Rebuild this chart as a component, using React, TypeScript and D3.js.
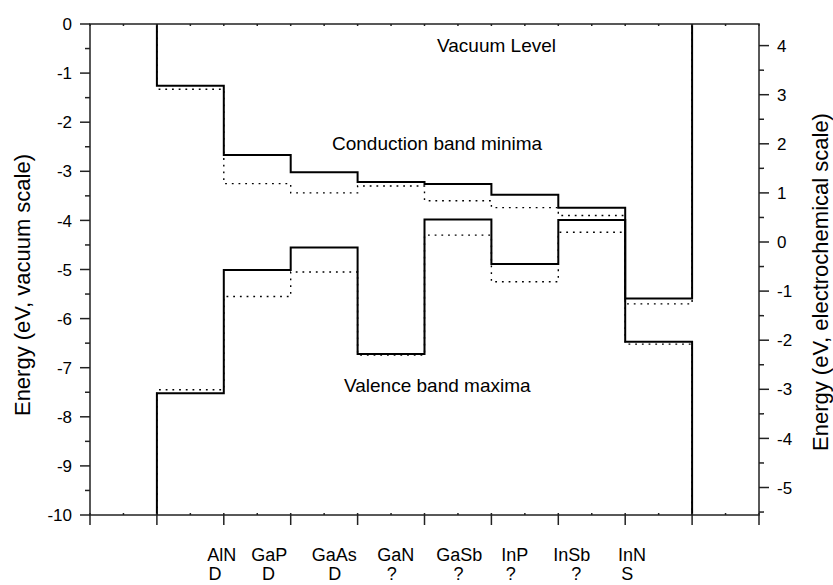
import React from "react";
import * as d3 from "d3";

// ---- data ----
const materials = ["AlN", "GaP", "GaAs", "GaN", "GaSb", "InP", "InSb", "InN"];
const gapTypes = ["D", "D", "D", "?", "?", "?", "?", "S"];
const cbmSolid = [-1.26, -2.67, -3.02, -3.22, -3.26, -3.48, -3.74, -5.59];
const cbmDotted = [-1.33, -3.25, -3.44, -3.3, -3.6, -3.74, -3.9, -5.7];
const vbmSolid = [-7.52, -5.01, -4.55, -6.72, -3.98, -4.89, -3.99, -6.47];
const vbmDotted = [-7.45, -5.55, -5.05, -6.74, -4.3, -5.25, -4.24, -6.52];
const leftTicks = [0, -1, -2, -3, -4, -5, -6, -7, -8, -9, -10];
const rightTicks = [4, 3, 2, 1, 0, -1, -2, -3, -4, -5];
const electrochemOffset = 4.44;
const vacuumLevel = 0;
const floorLevel = -10;

// label anchor positions (x-domain units) for the two label rows
const nameX = [1.97, 2.68, 3.65, 4.57, 5.52, 6.35, 7.2, 8.1];
const typeX = [1.87, 2.67, 3.66, 4.51, 5.51, 6.29, 7.27, 8.03];

const W = 833;
const H = 585;
const M = { left: 90, right: 759, top: 24, bottom: 515 };
const FONT = "'Liberation Sans', Arial, Helvetica, sans-serif";

export default function App() {
  const x = d3.scaleLinear().domain([0, 10]).range([M.left, M.right]);
  const y = d3.scaleLinear().domain([-10, 0]).range([M.bottom, M.top]);
  const yR = d3
    .scaleLinear()
    .domain([-10 + electrochemOffset, 0 + electrochemOffset])
    .range([M.bottom, M.top]);

  const stepLine = d3
    .line<[number, number]>()
    .x((d) => x(d[0]))
    .y((d) => y(d[1]))
    .curve(d3.curveStepAfter);

  const buildPts = (vals: number[], edge: number): [number, number][] => {
    const pts: [number, number][] = [[1, edge]];
    vals.forEach((v, i) => pts.push([i + 1, v]));
    pts.push([vals.length + 1, vals[vals.length - 1]]);
    pts.push([vals.length + 1, edge]);
    return pts;
  };

  const halfX = d3.range(0, 10.001, 0.5);
  const majorX = d3.range(0, 10.001, 1);
  const halfYL = d3.range(-10, 0.001, 0.5);
  const halfYR = d3.range(-5.5, 4.001, 0.5).filter((v) => yR(v) >= M.top && yR(v) <= M.bottom);

  const axisStroke = "#222";

  return (
    <svg
      width={W}
      height={H}
      style={{ position: "absolute", left: 0, top: 0, background: "#fff" }}
      fontFamily={FONT}
    >
      <rect x={0} y={0} width={W} height={H} fill="#fff" />

      {/* dotted step lines */}
      <path d={stepLine(buildPts(cbmDotted, vacuumLevel)) || ""} fill="none" stroke="#000" strokeWidth={1.4} strokeDasharray="1.8 4.9" />
      <path d={stepLine(buildPts(vbmDotted, floorLevel)) || ""} fill="none" stroke="#000" strokeWidth={1.4} strokeDasharray="1.8 4.9" />
      {/* solid step lines */}
      <path d={stepLine(buildPts(cbmSolid, vacuumLevel)) || ""} fill="none" stroke="#000" strokeWidth={2} />
      <path d={stepLine(buildPts(vbmSolid, floorLevel)) || ""} fill="none" stroke="#000" strokeWidth={2} />

      {/* frame */}
      <rect x={M.left} y={M.top} width={M.right - M.left} height={M.bottom - M.top} fill="none" stroke={axisStroke} strokeWidth={1.5} />

      {/* x ticks */}
      {halfX.map((v) => (
        <g key={"hx" + v}>
          <line x1={x(v)} x2={x(v)} y1={M.top} y2={M.top + 2} stroke={axisStroke} strokeWidth={1.5} />
          <line x1={x(v)} x2={x(v)} y1={M.bottom} y2={M.bottom - 2} stroke={axisStroke} strokeWidth={1.5} />
        </g>
      ))}
      {majorX.map((v) => (
        <line key={"mx" + v} x1={x(v)} x2={x(v)} y1={M.bottom} y2={M.bottom + 10} stroke={axisStroke} strokeWidth={1.5} />
      ))}

      {/* left axis */}
      {halfYL.map((v) => (
        <line key={"ly" + v} x1={M.left} x2={M.left - (Number.isInteger(v) ? 10 : 5)} y1={y(v)} y2={y(v)} stroke={axisStroke} strokeWidth={1.5} />
      ))}
      {leftTicks.map((v) => (
        <text key={"lt" + v} x={M.left - 18} y={y(v)} dy="0.36em" textAnchor="end" fontSize={17} fill="#000">
          {String(v)}
        </text>
      ))}

      {/* right axis */}
      {halfYR.map((v) => (
        <line key={"ry" + v} x1={M.right} x2={M.right + (Number.isInteger(v) ? 10 : 5)} y1={yR(v)} y2={yR(v)} stroke={axisStroke} strokeWidth={1.5} />
      ))}
      {rightTicks.map((v) => (
        <text key={"rt" + v} x={M.right + 18} y={yR(v)} dy="0.36em" textAnchor="start" fontSize={17} fill="#000">
          {String(v)}
        </text>
      ))}

      {/* axis titles */}
      <text transform="translate(30,285) rotate(-90)" textAnchor="middle" fontSize={22} fill="#000">
        Energy (eV, vacuum scale)
      </text>
      <text transform="translate(828,282) rotate(-90)" textAnchor="middle" fontSize={22} fill="#000">
        Energy (eV, electrochemical scale)
      </text>

      {/* x labels */}
      {materials.map((m, i) => (
        <text key={"m" + m} x={x(nameX[i])} y={561} textAnchor="middle" fontSize={18} fill="#000">
          {m}
        </text>
      ))}
      {gapTypes.map((t, i) => (
        <text key={"t" + i} x={x(typeX[i])} y={580} textAnchor="middle" fontSize={18} fill="#000">
          {t}
        </text>
      ))}

      {/* annotations */}
      <text x={437} y={52} fontSize={19} fill="#000">Vacuum Level</text>
      <text x={332} y={150} fontSize={19} fill="#000">Conduction band minima</text>
      <text x={344} y={392} fontSize={19} fill="#000">Valence band maxima</text>
    </svg>
  );
}
